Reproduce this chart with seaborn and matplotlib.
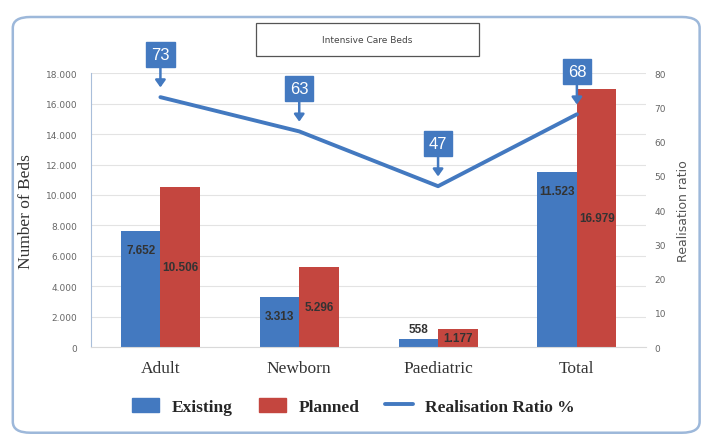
import numpy as np
import pandas as pd
import matplotlib.pyplot as plt
import seaborn as sns
from matplotlib.patches import FancyBboxPatch

categorias = ["Adult", "Newborn", "Paediatric", "Total"]
existentes = [7652, 3313, 558, 11523]
planificadas = [10506, 5296, 1177, 16979]
ratio = [73, 63, 47, 68]

azul = "#4379C0"
rojo = "#C4463F"
serif = ["Liberation Serif", "DejaVu Serif"]
sans = ["Liberation Sans", "DejaVu Sans"]

df = pd.DataFrame({
    "categoria": categorias * 2,
    "camas": existentes + planificadas,
    "serie": ["Existing"] * 4 + ["Planned"] * 4,
})

sns.set_style("white")
fig = plt.figure(figsize=(7.11, 4.39), dpi=100)
ax = fig.add_axes([0.128, 0.207, 0.781, 0.624])

sns.barplot(data=df, x="categoria", y="camas", hue="serie", order=categorias,
            palette=[azul, rojo], width=0.57, saturation=1, linewidth=0,
            ax=ax, legend=False)
ax.set_ylim(0, 18000)
ax.set_xlim(-0.5, 3.5)
ax.set_yticks(np.arange(0, 18001, 2000))
ax.set_yticklabels([f"{v:,}".replace(",", ".") for v in range(0, 18001, 2000)],
                   fontsize=6.5, color="#666666")
ax.grid(axis="y", color="#E3E3E3", lw=0.8)
ax.set_axisbelow(True)
ax.tick_params(axis="x", length=0, pad=9)
ax.tick_params(axis="y", length=0, pad=10)
for t in ax.get_xticklabels():
    t.set_family(serif)
    t.set_fontsize(12.5)
    t.set_color("#333333")
ax.set_xlabel("")
ax.set_ylabel("Number of Beds", family=serif, fontsize=12.5, color="#333333", labelpad=8)
for s in ["top", "right"]:
    ax.spines[s].set_visible(False)
ax.spines["left"].set_color("#A9BEDA")
ax.spines["bottom"].set_color("#D9D9D9")

# etiquetas de las barras
cont_ex, cont_pl = ax.containers[0], ax.containers[1]
for barra, v in zip(cont_ex, existentes):
    txt = f"{v:,}".replace(",", ".")
    cx = barra.get_x() + barra.get_width() / 2
    dy = 7 if v < 1000 else -14
    ax.annotate(txt, (cx, barra.get_height()), xytext=(0, dy), textcoords="offset points",
                ha="center", va="center", fontsize=8.5, color="#333333", fontweight="bold",
                family=sans)
ax.bar_label(cont_pl, labels=[f"{v:,}".replace(",", ".") for v in planificadas],
             label_type="center", fontsize=8.5, color="#333333", fontweight="bold",
             family=sans)

# ratio en el eje derecho
ax2 = ax.twinx()
sns.lineplot(x=categorias, y=ratio, ax=ax2, color=azul, lw=2.8, sort=False)
ax2.set_ylim(0, 80)
ax2.set_yticks(range(0, 81, 10))
ax2.tick_params(axis="y", length=0, pad=6, labelsize=6.5, labelcolor="#666666")
ax2.set_ylabel("Realisation ratio", fontsize=9, color="#555555", labelpad=8)
ax2.grid(False)
for s in ax2.spines.values():
    s.set_visible(False)

for x, v in zip(ax2.lines[0].get_xdata(), ratio):
    ax2.annotate(str(v), (x, v), xytext=(0, 31), textcoords="offset points",
                 ha="center", va="center", fontsize=12, color="white", family=sans,
                 bbox=dict(boxstyle="square,pad=0.3", fc=azul, ec=azul),
                 arrowprops=dict(arrowstyle="-|>,head_length=0.35,head_width=0.25",
                                 color=azul, lw=1.8, shrinkA=0, shrinkB=7))

# caja del título
fig.patches.append(plt.Rectangle((0.36, 0.87), 0.313, 0.075, transform=fig.transFigure,
                                 fill=False, ec="#555555", lw=0.9))
fig.text(0.5165, 0.907, "Intensive Care Beds", ha="center", va="center",
         fontsize=6.5, color="#444444")

# marco exterior redondeado
fig.patches.append(FancyBboxPatch((0.018, 0.012), 0.966, 0.947,
                                  boxstyle="round,pad=0,rounding_size=0.025",
                                  transform=fig.transFigure, fill=False,
                                  ec="#9DB8DA", lw=1.8))

# leyenda
handles = [plt.Rectangle((0, 0), 1, 1, color=azul), plt.Rectangle((0, 0), 1, 1, color=rojo),
           plt.Line2D([0], [0], color=azul, lw=2.8)]
fig.legend(handles, ["Existing", "Planned", "Realisation Ratio %"], loc="center",
           bbox_to_anchor=(0.497, 0.072), ncol=3, frameon=False, handlelength=1.6,
           handleheight=0.9, columnspacing=1.5, handletextpad=0.7,
           prop=dict(family=serif, weight="bold", size=12.5))

fig.savefig("out.png", dpi=100)
